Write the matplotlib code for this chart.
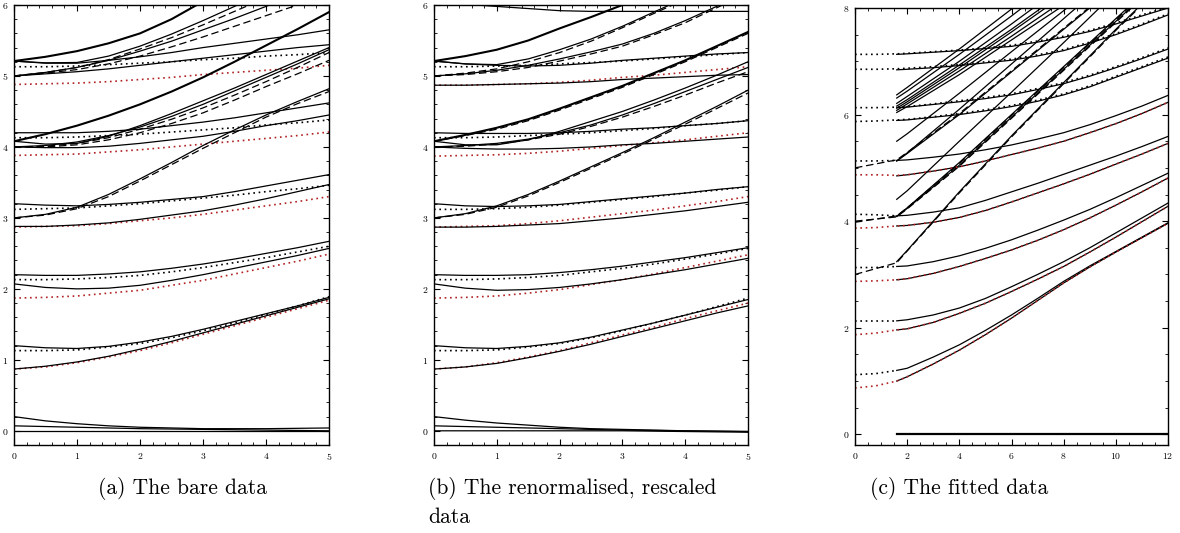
import matplotlib

matplotlib.use('Agg')

import matplotlib.pyplot as plt
from matplotlib.ticker import MultipleLocator

plt.rcParams['font.family'] = 'cmr10'
plt.rcParams['axes.formatter.use_mathtext'] = True

# ---- panel (a): the bare data ----
xa = [0, 0.5, 1, 1.5, 2, 2.5, 3, 3.5, 4, 4.5, 5]
a_solid = [
    [5.21, 5.185, 5.19, 5.28, 5.42, 5.59, 5.78, 5.98, 6.19, 6.4, 6.6],
    [5.0, 5.05, 5.12, 5.22, 5.35, 5.49, 5.65, 5.81, 5.98, 6.16, 6.35],
    [5.21, 5.18, 5.18, 5.22, 5.27, 5.33, 5.4, 5.46, 5.52, 5.58, 5.65],
    [5.0, 5.03, 5.06, 5.1, 5.15, 5.2, 5.25, 5.3, 5.35, 5.4, 5.44],
    [4.08, 4.04, 4.05, 4.15, 4.3, 4.47, 4.65, 4.83, 5.02, 5.21, 5.4],
    [4.0, 4.02, 4.07, 4.16, 4.28, 4.43, 4.6, 4.79, 4.98, 5.17, 5.37],
    [4.2, 4.2, 4.2, 4.22, 4.25, 4.3, 4.35, 4.41, 4.48, 4.55, 4.62],
    [4.0, 3.99, 3.99, 4.01, 4.05, 4.1, 4.15, 4.22, 4.3, 4.37, 4.45],
    [3.0, 3.05, 3.15, 3.33, 3.55, 3.78, 4.02, 4.24, 4.45, 4.64, 4.82],
    [3.2, 3.18, 3.17, 3.19, 3.22, 3.26, 3.3, 3.37, 3.45, 3.53, 3.61],
    [2.88, 2.88, 2.9, 2.93, 2.98, 3.04, 3.1, 3.18, 3.27, 3.37, 3.47],
    [2.2, 2.19, 2.19, 2.21, 2.24, 2.29, 2.35, 2.42, 2.5, 2.58, 2.67],
    [2.07, 2.02, 2.0, 2.01, 2.05, 2.12, 2.2, 2.29, 2.38, 2.47, 2.57],
    [1.2, 1.17, 1.16, 1.19, 1.25, 1.33, 1.43, 1.54, 1.65, 1.76, 1.88],
    [0.87, 0.91, 0.97, 1.05, 1.15, 1.26, 1.38, 1.5, 1.62, 1.74, 1.86],
    [0.2, 0.14, 0.1, 0.07, 0.05, 0.04, 0.03, 0.03, 0.03, 0.035, 0.04],
    [0.07, 0.06, 0.05, 0.04, 0.03, 0.025, 0.02, 0.015, 0.01, 0.005, 0.0],
    [0.0, 0.0, 0.0, 0.0, 0.0, 0.0, 0.0, 0.0, 0.0, 0.0, 0.0],
]
a_thick = [
    [5.21, 5.27, 5.35, 5.46, 5.6, 5.8, 6.05, 6.3, 6.55, 6.8, 7.05],
    [4.08, 4.18, 4.3, 4.44, 4.6, 4.78, 4.98, 5.2, 5.43, 5.66, 5.9],
]
a_dashed = [
    [5.0, 5.05, 5.12, 5.23, 5.38, 5.54, 5.72, 5.91, 6.1, 6.3, 6.5],
    [5.0, 5.04, 5.09, 5.17, 5.28, 5.41, 5.55, 5.7, 5.85, 6.0, 6.15],
    [4.0, 4.01, 4.05, 4.13, 4.25, 4.39, 4.55, 4.73, 4.92, 5.12, 5.33],
    [4.0, 4.0, 4.03, 4.1, 4.2, 4.33, 4.48, 4.66, 4.85, 5.03, 5.22],
    [3.0, 3.04, 3.13, 3.3, 3.52, 3.75, 3.98, 4.2, 4.42, 4.61, 4.78],
]
a_dot_black = [
    [5.13, 5.13, 5.14, 5.16, 5.18, 5.2, 5.23, 5.25, 5.28, 5.3, 5.33],
    [4.13, 4.13, 4.14, 4.16, 4.18, 4.21, 4.24, 4.27, 4.31, 4.34, 4.38],
    [3.12, 3.13, 3.14, 3.17, 3.2, 3.24, 3.28, 3.32, 3.37, 3.41, 3.46],
    [2.13, 2.13, 2.14, 2.16, 2.19, 2.24, 2.3, 2.37, 2.44, 2.52, 2.6],
    [1.13, 1.13, 1.14, 1.18, 1.23, 1.31, 1.41, 1.52, 1.64, 1.76, 1.89],
]
a_dot_red = [
    [4.88, 4.89, 4.9, 4.92, 4.95, 4.98, 5.02, 5.05, 5.08, 5.11, 5.15],
    [3.88, 3.89, 3.9, 3.93, 3.96, 4.0, 4.04, 4.08, 4.12, 4.16, 4.21],
    [2.87, 2.88, 2.89, 2.92, 2.96, 3.0, 3.05, 3.11, 3.17, 3.23, 3.3],
    [1.87, 1.88, 1.9, 1.94, 1.98, 2.05, 2.12, 2.21, 2.3, 2.39, 2.49],
    [0.87, 0.9, 0.96, 1.04, 1.13, 1.24, 1.36, 1.48, 1.6, 1.72, 1.84],
]

# ---- panel (b): renormalised, rescaled ----
xb = [0, 0.5, 1, 1.5, 2, 2.5, 3, 3.5, 4, 4.5, 5]
b_solid = [
    [6.0, 6.01, 5.98, 5.95, 5.92, 5.91, 5.91, 5.91, 5.91, 5.91, 5.91],
    [5.21, 5.17, 5.16, 5.24, 5.37, 5.52, 5.7, 5.9, 6.1, 6.3, 6.5],
    [5.0, 5.03, 5.08, 5.15, 5.24, 5.34, 5.45, 5.6, 5.78, 5.98, 6.2],
    [5.21, 5.17, 5.15, 5.14, 5.15, 5.18, 5.22, 5.25, 5.28, 5.31, 5.33],
    [4.87, 4.87, 4.88, 4.89, 4.9, 4.92, 4.95, 4.97, 4.99, 5.01, 5.02],
    [4.08, 4.03, 4.03, 4.1, 4.22, 4.36, 4.5, 4.66, 4.83, 5.01, 5.2],
    [4.0, 4.02, 4.05, 4.11, 4.2, 4.31, 4.45, 4.61, 4.78, 4.95, 5.12],
    [4.2, 4.19, 4.19, 4.19, 4.2, 4.22, 4.25, 4.27, 4.3, 4.33, 4.37],
    [4.0, 3.98, 3.97, 3.97, 3.98, 4.0, 4.03, 4.05, 4.08, 4.11, 4.14],
    [3.0, 3.06, 3.17, 3.33, 3.52, 3.72, 3.92, 4.13, 4.35, 4.57, 4.8],
    [3.2, 3.17, 3.16, 3.17, 3.19, 3.23, 3.27, 3.31, 3.35, 3.4, 3.44],
    [2.87, 2.87, 2.88, 2.9, 2.92, 2.96, 3.0, 3.05, 3.1, 3.16, 3.22],
    [2.2, 2.19, 2.19, 2.2, 2.23, 2.27, 2.32, 2.38, 2.44, 2.51, 2.58],
    [2.07, 2.01, 1.98, 1.99, 2.02, 2.07, 2.13, 2.2, 2.27, 2.35, 2.43],
    [1.2, 1.17, 1.16, 1.19, 1.24, 1.32, 1.42, 1.52, 1.63, 1.74, 1.85],
    [0.87, 0.9, 0.95, 1.03, 1.12, 1.22, 1.33, 1.44, 1.55, 1.66, 1.76],
    [0.2, 0.15, 0.11, 0.08, 0.05, 0.03, 0.02, 0.01, 0.0, -0.005, -0.01],
    [0.07, 0.06, 0.05, 0.04, 0.03, 0.02, 0.01, 0.005, 0.0, -0.005, -0.01],
    [0.0, 0.0, 0.0, 0.0, 0.0, 0.0, 0.0, -0.005, -0.01, -0.015, -0.02],
]
b_thick = [
    [5.21, 5.28, 5.37, 5.5, 5.67, 5.83, 6.0, 6.2, 6.42, 6.63, 6.85],
    [4.08, 4.17, 4.27, 4.39, 4.54, 4.7, 4.86, 5.04, 5.22, 5.42, 5.62],
]
b_dashed = [
    [5.0, 5.04, 5.1, 5.2, 5.33, 5.49, 5.68, 5.88, 6.08, 6.29, 6.5],
    [5.0, 5.02, 5.06, 5.12, 5.21, 5.31, 5.42, 5.58, 5.75, 5.96, 6.17],
    [4.08, 4.16, 4.25, 4.37, 4.52, 4.68, 4.84, 5.02, 5.2, 5.4, 5.6],
    [4.0, 4.01, 4.04, 4.1, 4.18, 4.29, 4.42, 4.57, 4.73, 4.9, 5.06],
    [3.0, 3.05, 3.15, 3.31, 3.5, 3.7, 3.9, 4.11, 4.32, 4.54, 4.76],
]
b_dot_black = [
    [5.13, 5.13, 5.14, 5.15, 5.17, 5.19, 5.21, 5.24, 5.27, 5.3, 5.33],
    [4.13, 4.13, 4.14, 4.16, 4.18, 4.2, 4.23, 4.26, 4.3, 4.33, 4.37],
    [3.12, 3.12, 3.13, 3.15, 3.18, 3.22, 3.26, 3.3, 3.35, 3.39, 3.44],
    [2.13, 2.13, 2.14, 2.16, 2.19, 2.24, 2.29, 2.35, 2.42, 2.49, 2.57],
    [1.13, 1.13, 1.14, 1.18, 1.23, 1.31, 1.41, 1.52, 1.63, 1.75, 1.87],
]
b_dot_red = [
    [4.87, 4.87, 4.88, 4.89, 4.91, 4.94, 4.98, 5.01, 5.05, 5.09, 5.13],
    [3.87, 3.88, 3.89, 3.91, 3.94, 3.98, 4.02, 4.06, 4.1, 4.15, 4.2],
    [2.87, 2.88, 2.89, 2.92, 2.96, 3.01, 3.06, 3.11, 3.17, 3.23, 3.3],
    [1.87, 1.88, 1.9, 1.94, 1.99, 2.06, 2.13, 2.21, 2.3, 2.39, 2.48],
    [0.87, 0.9, 0.96, 1.04, 1.13, 1.24, 1.35, 1.46, 1.58, 1.69, 1.8],
]

# ---- panel (c): fitted data ----
xc = [1.6, 2, 3, 4, 5, 6, 7, 8, 9, 10, 11, 12]
c_pairs = [
    [1.2, 1.24, 1.45, 1.68, 1.95, 2.24, 2.55, 2.87, 3.16, 3.43, 3.7, 3.97],
    [1.0, 1.08, 1.32, 1.58, 1.87, 2.18, 2.51, 2.84, 3.14, 3.42, 3.69, 3.96],
    [2.13, 2.15, 2.24, 2.37, 2.55, 2.77, 3.0, 3.24, 3.5, 3.78, 4.06, 4.34],
    [1.96, 1.98, 2.1, 2.27, 2.46, 2.68, 2.91, 3.15, 3.42, 3.7, 3.99, 4.28],
    [3.15, 3.16, 3.24, 3.35, 3.49, 3.65, 3.83, 4.02, 4.22, 4.44, 4.67, 4.9],
    [2.9, 2.92, 3.02, 3.15, 3.3, 3.46, 3.64, 3.84, 4.06, 4.3, 4.55, 4.81],
    [4.1, 4.11, 4.17, 4.25, 4.39, 4.55, 4.71, 4.88, 5.05, 5.22, 5.4, 5.59],
    [3.91, 3.92, 3.98, 4.07, 4.2, 4.36, 4.53, 4.7, 4.88, 5.07, 5.26, 5.46],
    [5.14, 5.15, 5.2, 5.26, 5.34, 5.43, 5.54, 5.66, 5.81, 5.98, 6.16, 6.36],
    [4.85, 4.87, 4.94, 5.02, 5.13, 5.25, 5.37, 5.5, 5.66, 5.83, 6.02, 6.23],
    [6.13, 6.14, 6.19, 6.24, 6.3, 6.37, 6.47, 6.58, 6.72, 6.88, 7.05, 7.23],
    [5.89, 5.9, 5.95, 6.0, 6.07, 6.15, 6.25, 6.37, 6.52, 6.7, 6.88, 7.06],
    [7.13, 7.14, 7.17, 7.2, 7.24, 7.28, 7.36, 7.45, 7.56, 7.7, 7.85, 8.0],
    [6.84, 6.85, 6.88, 6.92, 6.97, 7.02, 7.1, 7.2, 7.34, 7.5, 7.68, 7.87],
]
xc_zero = [1.6, 12]
c_zero = [0.0, 0.0]
xc_steep = [1.6, 2, 4, 6, 8, 10, 12]
c_steep = [
    [6.37, 6.51, 7.23, 7.98, 8.75, 9.5, 10.3],
    [6.31, 6.44, 7.13, 7.85, 8.6, 9.3, 10.0],
    [6.21, 6.34, 7.0, 7.7, 8.42, 9.1, 9.8],
    [6.16, 6.28, 6.93, 7.6, 8.3, 9.0, 9.7],
    [6.12, 6.24, 6.88, 7.55, 8.24, 8.9, 9.6],
    [6.08, 6.2, 6.82, 7.47, 8.14, 8.8, 9.5],
    [6.04, 6.15, 6.75, 7.4, 8.05, 8.7, 9.35],
    [5.5, 5.64, 6.4, 7.18, 7.95, 8.75, 9.5],
    [5.13, 5.28, 6.1, 6.95, 7.8, 8.65, 9.5],
    [5.13, 5.27, 6.0, 6.8, 7.6, 8.4, 9.2],
    [4.41, 4.57, 5.5, 6.42, 7.35, 8.3, 9.2],
    [4.09, 4.25, 5.1, 6.0, 6.9, 7.8, 8.7],
    [4.09, 4.24, 5.05, 5.95, 6.85, 7.75, 8.65],
    [3.24, 3.45, 4.55, 5.6, 6.6, 7.6, 8.55],
]
xc_dash = [0, 1.6, 2, 4, 6, 8, 10, 12]
c_dashed = [
    [5.0, 5.15, 5.29, 6.02, 6.82, 7.62, 8.42, 9.2],
    [3.98, 4.1, 4.25, 5.08, 5.98, 6.88, 7.78, 8.68],
    [4.0, 4.08, 4.23, 5.03, 5.93, 6.83, 7.73, 8.63],
    [3.0, 3.22, 3.44, 4.53, 5.58, 6.58, 7.58, 8.53],
]
xc_dot = [0, 0.8, 1.6]
c_dot_black = [
    [1.12, 1.14, 1.2],
    [2.13, 2.13, 2.13],
    [3.13, 3.13, 3.15],
    [4.13, 4.12, 4.1],
    [5.13, 5.13, 5.14],
]
xc_dot_full = [0, 0.8, 1.6, 2, 3, 4, 5, 6, 7, 8, 9, 10, 11, 12]
c_dot_black_full = [
    [5.87, 5.88, 5.9, 5.91, 5.96, 6.02, 6.09, 6.17, 6.27, 6.39, 6.54, 6.72, 6.9, 7.08],
    [6.13, 6.13, 6.14, 6.15, 6.2, 6.26, 6.32, 6.39, 6.49, 6.6, 6.74, 6.9, 7.07, 7.25],
    [6.85, 6.85, 6.86, 6.87, 6.9, 6.94, 6.99, 7.04, 7.12, 7.22, 7.36, 7.52, 7.7, 7.89],
    [7.13, 7.13, 7.14, 7.15, 7.18, 7.21, 7.25, 7.3, 7.38, 7.47, 7.58, 7.72, 7.87, 8.02],
]
c_dot_red = [
    [0.87, 0.91, 1.0, 1.08, 1.32, 1.58, 1.87, 2.18, 2.51, 2.84, 3.14, 3.42, 3.69, 3.96],
    [1.87, 1.9, 1.96, 1.98, 2.1, 2.27, 2.46, 2.68, 2.91, 3.15, 3.42, 3.7, 3.99, 4.28],
    [2.87, 2.88, 2.9, 2.92, 3.02, 3.15, 3.3, 3.46, 3.64, 3.84, 4.06, 4.3, 4.55, 4.81],
    [3.87, 3.88, 3.91, 3.92, 3.98, 4.07, 4.2, 4.36, 4.53, 4.7, 4.88, 5.07, 5.26, 5.46],
    [4.87, 4.87, 4.86, 4.87, 4.94, 5.02, 5.13, 5.25, 5.37, 5.5, 5.66, 5.83, 6.02, 6.23],
]

captions = ['(a) The bare data', '(b) The renormalised, rescaled\ndata', '(c) The fitted data']

RED = '#b22222'
DOT = (0, (1, 2.2))
DASH = (0, (6, 3))


def style(ax, xlim, ylim, xmaj, xmin, ymaj, ymin):
    ax.set_xlim(*xlim)
    ax.set_ylim(*ylim)
    ax.xaxis.set_major_locator(MultipleLocator(xmaj))
    ax.xaxis.set_minor_locator(MultipleLocator(xmin))
    ax.yaxis.set_major_locator(MultipleLocator(ymaj))
    ax.yaxis.set_minor_locator(MultipleLocator(ymin))
    ax.tick_params(which='both', direction='in', top=True, right=True, labelsize=7, pad=4)
    ax.tick_params(which='major', length=4, width=0.8)
    ax.tick_params(which='minor', length=2.5, width=0.6)
    for s in ax.spines.values():
        s.set_linewidth(1.0)


fig = plt.figure(figsize=(11.8, 5.33), dpi=100)
ax_a = fig.add_axes([14 / 1180, 88 / 533, 315 / 1180, 440 / 533])
ax_b = fig.add_axes([434 / 1180, 88 / 533, 314 / 1180, 440 / 533])
ax_c = fig.add_axes([855 / 1180, 88 / 533, 313 / 1180, 437 / 533])

for ax, x, sol, thk, das, dk, dr in [
    (ax_a, xa, a_solid, a_thick, a_dashed, a_dot_black, a_dot_red),
    (ax_b, xb, b_solid, b_thick, b_dashed, b_dot_black, b_dot_red),
]:
    for y in dk:
        ax.plot(x, y, color='black', lw=1.2, ls=DOT)
    for y in dr:
        ax.plot(x, y, color=RED, lw=1.2, ls=DOT)
    for y in das:
        ax.plot(x, y, color='black', lw=0.9, ls=DASH)
    for y in sol:
        ax.plot(x, y, color='black', lw=0.9)
    for y in thk:
        ax.plot(x, y, color='black', lw=1.5)
    style(ax, (0, 5), (-0.2, 6), 1, 0.2, 1, 0.2)

for y in c_dot_black:
    ax_c.plot(xc_dot, y, color='black', lw=1.2, ls=DOT)
for y in c_dot_black_full:
    ax_c.plot(xc_dot_full, y, color='black', lw=1.2, ls=DOT)
for y in c_dashed:
    ax_c.plot(xc_dash, y, color='black', lw=0.9, ls=DASH)
for y in c_steep:
    ax_c.plot(xc_steep, y, color='black', lw=0.9)
for y in c_pairs:
    ax_c.plot(xc, y, color='black', lw=0.9)
ax_c.plot(xc_zero, c_zero, color='black', lw=1.6)
for y in c_dot_red:
    ax_c.plot(xc_dot_full, y, color=RED, lw=1.2, ls=DOT)
style(ax_c, (0, 12), (-0.2, 8), 2, 0.5, 2, 0.5)

fig.text(183 / 1180, 1 - 488 / 533, captions[0], fontsize=15.5, ha='center', va='center')
fig.text(428 / 1180, 1 - 502 / 533, captions[1], fontsize=15.5, ha='left', va='center',
         linespacing=1.45)
fig.text(959 / 1180, 1 - 488 / 533, captions[2], fontsize=15.5, ha='center', va='center')

fig.savefig('out.png', dpi=100)
